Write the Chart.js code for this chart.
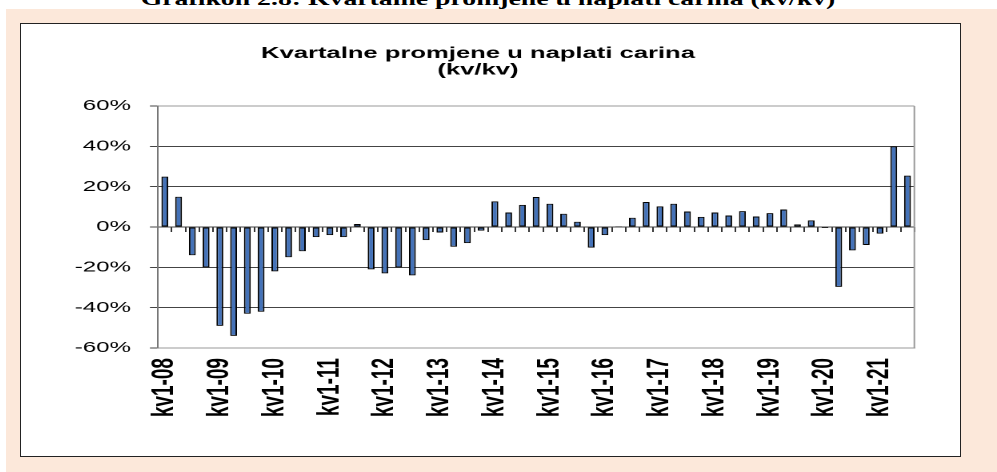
<!DOCTYPE html>
<html>
<head>
<meta charset="utf-8">
<script src="https://cdn.jsdelivr.net/npm/chart.js@4.4.1/dist/chart.umd.min.js"></script>
<style>
  html, body { margin: 0; padding: 0; background: #fff; }
  body { width: 997px; height: 472px; position: relative; overflow: hidden; }
  .caption {
    position: absolute; left: 488px; top: -11px;
    font: bold 19px "Liberation Serif", "Times New Roman", serif; line-height: 1;
    white-space: nowrap; transform: translateX(-50%) scaleX(1.46);
  }
  .sheet { position: absolute; left: 6px; top: 9px; right: 0; bottom: 0; background: #fce8da; }
  .frame {
    position: absolute; left: 20px; top: 23px; width: 939px; height: 432px;
    border: 1px solid #222; background: #fff; overflow: hidden;
  }
  .wrap { position: absolute; left: 0; top: 0; width: 587px; height: 432px; transform: scaleX(1.6); transform-origin: 0 0; }
</style>
</head>
<body>
<div class="caption">Grafikon 2.8: Kvartalne promjene u naplati carina (kv/kv)</div>
<div class="sheet"></div>
<div class="frame">
  <div class="wrap"><canvas id="myChart"></canvas></div>
</div>
<script>
// quarters kv1-08 .. kv3-21
const quarters = [
  "kv1-08", "kv2-08", "kv3-08", "kv4-08",
  "kv1-09", "kv2-09", "kv3-09", "kv4-09",
  "kv1-10", "kv2-10", "kv3-10", "kv4-10",
  "kv1-11", "kv2-11", "kv3-11", "kv4-11",
  "kv1-12", "kv2-12", "kv3-12", "kv4-12",
  "kv1-13", "kv2-13", "kv3-13", "kv4-13",
  "kv1-14", "kv2-14", "kv3-14", "kv4-14",
  "kv1-15", "kv2-15", "kv3-15", "kv4-15",
  "kv1-16", "kv2-16", "kv3-16", "kv4-16",
  "kv1-17", "kv2-17", "kv3-17", "kv4-17",
  "kv1-18", "kv2-18", "kv3-18", "kv4-18",
  "kv1-19", "kv2-19", "kv3-19", "kv4-19",
  "kv1-20", "kv2-20", "kv3-20", "kv4-20",
  "kv1-21", "kv2-21", "kv3-21"
];

// % change, quarter on quarter
const customsChange = [
  25, 15, -14, -20,
  -49, -54, -43, -42,
  -22, -15, -12, -5,
  -4, -5, 1.5, -21,
  -23, -20, -24, -6.5,
  -2.7, -9.8, -8, -1.8,
  12.7, 7.2, 11, 14.9,
  11.5, 6.6, 2.6, -10.2,
  -4, 0.4, 4.6, 12.4,
  10.2, 11.5, 7.7, 5,
  7.2, 5.7, 7.9, 5.2,
  6.9, 8.7, 1.3, 3.3,
  -0.5, -29.7, -11.6, -8.9,
  -3.3, 40, 25.5
];

const yTicks = [-60, -40, -20, 0, 20, 40, 60];

const titleLines = ["Kvartalne promjene u naplati carina", "(kv/kv)"];

const fontFamily = 'Arial, "Liberation Sans", sans-serif';
Chart.defaults.font.family = fontFamily;
Chart.defaults.color = "#000";

// gray frame on the right side of the plot
const plotFrame = {
  id: "plotFrame",
  beforeDatasetsDraw(chart) {
    const { ctx, chartArea } = chart;
    ctx.save();
    ctx.strokeStyle = "#999";
    ctx.lineWidth = 1;
    ctx.beginPath();
    ctx.moveTo(chartArea.right, chartArea.top);
    ctx.lineTo(chartArea.right, chartArea.bottom);
    ctx.stroke();
    ctx.restore();
  }
};

new Chart(document.getElementById("myChart"), {
  type: "bar",
  data: {
    labels: quarters,
    datasets: [{
      data: customsChange,
      xAxisID: "x",
      yAxisID: "y",
      backgroundColor: "#4472b8",
      borderColor: "#000",
      borderWidth: 1,
      borderSkipped: false,
      barPercentage: 0.5,
      categoryPercentage: 1
    }]
  },
  options: {
    responsive: true,
    maintainAspectRatio: false,
    animation: false,
    devicePixelRatio: 2,
    layout: { padding: { left: 0, right: 15.75, top: 0, bottom: 0 } },
    plugins: {
      legend: { display: false },
      tooltip: { enabled: false },
      title: {
        display: true,
        text: titleLines,
        color: "#000",
        font: { size: 16, weight: "bold", lineHeight: 1.05 },
        padding: { top: 21, bottom: 27.4 }
      }
    },
    scales: {
      x: {
        position: "bottom",
        grid: { display: false, drawTicks: false },
        border: { display: true, color: "#999", width: 1 },
        ticks: {
          autoSkip: false,
          maxRotation: 90,
          minRotation: 90,
          padding: 10,
          color: "#000",
          font: { size: 19, weight: "bold" },
          callback: function (val, i) {
            return i % 4 === 0 ? this.getLabelForValue(val) : "";
          }
        },
        afterFit: (s) => { s.height = 108; }
      },
      xZero: {
        type: "category",
        position: { y: 0 },
        offset: true,
        grid: { display: true, offset: true, drawOnChartArea: false, drawTicks: true, tickLength: 5, color: "#333" },
        border: { display: false },
        ticks: { display: false, autoSkip: false }
      },
      y: {
        min: yTicks[0],
        max: yTicks[yTicks.length - 1],
        afterBuildTicks: (s) => { s.ticks = yTicks.map((v) => ({ value: v })); },
        ticks: {
          padding: 11.9,
          color: "#000",
          font: { size: 15 },
          callback: (v) => v + "%"
        },
        grid: {
          color: (c) => (c.tick && Math.abs(c.tick.value) === 60 ? "#999" : "#444"),
          tickColor: "#444",
          tickLength: 5
        },
        border: { display: true, color: "#777", width: 1 },
        afterFit: (s) => { s.width = 85.6; }
      }
    }
  },
  plugins: [plotFrame]
});
</script>
</body>
</html>
